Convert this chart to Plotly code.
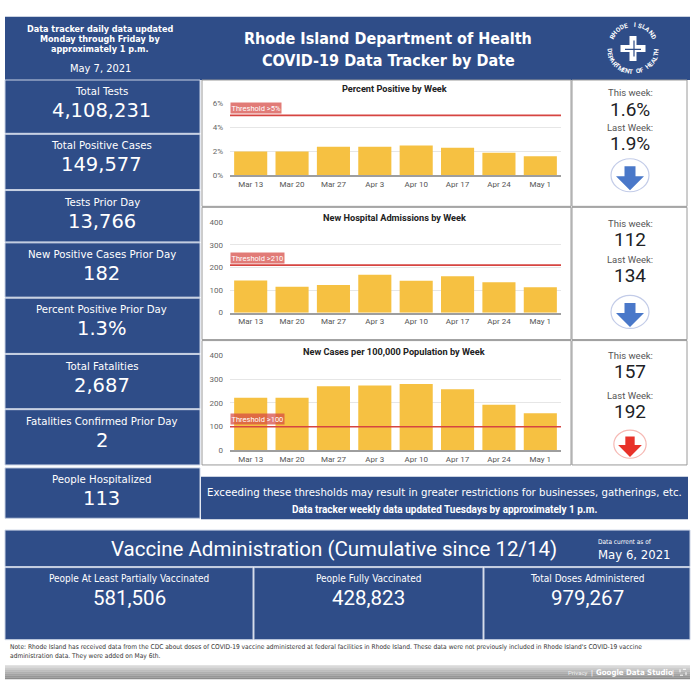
import numpy as np
import plotly.graph_objects as go

W, H = 696, 695

# ---------- data ----------
update_note = ["Data tracker daily data updated", "Monday through Friday by", "approximately 1 p.m."]
report_date = "May 7, 2021"
title_lines = ["Rhode Island Department of Health", "COVID-19 Data Tracker by Date"]

stat_labels = ["Total Tests", "Total Positive Cases", "Tests Prior Day", "New Positive Cases Prior Day",
               "Percent Positive Prior Day", "Total Fatalities", "Fatalities Confirmed Prior Day",
               "People Hospitalized"]
stat_values = ["4,108,231", "149,577", "13,766", "182", "1.3%", "2,687", "2", "113"]

weeks = ["Mar 13", "Mar 20", "Mar 27", "Apr 3", "Apr 10", "Apr 17", "Apr 24", "May 1"]
pct_positive = [2.0, 2.0, 2.4, 2.4, 2.5, 2.3, 1.9, 1.6]
hosp_admissions = [142, 115, 122, 167, 141, 161, 134, 112]
cases_per_100k = [222, 222, 270, 273, 280, 257, 192, 157]

chart_titles = ["Percent Positive by Week", "New Hospital Admissions by Week",
                "New Cases per 100,000 Population by Week"]
thresholds = [5, 210, 100]
threshold_labels = ["Threshold >5%", "Threshold >210", "Threshold >100"]
y_max = [6, 400, 400]
y_dtick = [2, 100, 100]
y_suffix = ["%", "", ""]
val_fmt = ["{:.1f}%", "{:d}", "{:d}"]

threshold_note = "Exceeding these thresholds may result in greater restrictions for businesses, gatherings, etc."
weekly_note = "Data tracker weekly data updated Tuesdays by approximately 1 p.m."

vax_title = "Vaccine Administration (Cumulative since 12/14)"
vax_date = "May 6, 2021"
vax_labels = ["People At Least Partially Vaccinated", "People Fully Vaccinated", "Total Doses Administered"]
vax_values = ["581,506", "428,823", "979,267"]

note_lines = ["Note: Rhode Island has received data from the CDC about doses of COVID-19 vaccine administered at "
              "federal facilities in Rhode Island. These data were not previously included in Rhode Island's "
              "COVID-19 vaccine",
              "administration data. They were added on May 6th."]

# ---------- style ----------
BLUE = "#2f4d88"
BAR = "#f6c142"
RED_LINE = "#d64541"
ROBOTO = "Roboto, Arial, sans-serif"
VERDANA = "DejaVu Sans, Verdana, sans-serif"
NARROW = "Liberation Sans Narrow, Arial Narrow, DejaVu Sans Condensed, Roboto, sans-serif"


def X(px):
    return px / W


def Y(py):
    return 1 - py / H


shapes = []
annotations = []


def rect(x0, y0, x1, y1, fill, line=None, lw=1, layer="below"):
    shapes.append(dict(type="rect", xref="paper", yref="paper", x0=X(x0), x1=X(x1), y0=Y(y1), y1=Y(y0),
                       fillcolor=fill, line=dict(color=line or fill, width=lw if line else 0), layer=layer))


def text(x, y, s, size, color="white", family=ROBOTO, xanchor="center", **kw):
    annotations.append(dict(xref="paper", yref="paper", x=X(x), y=Y(y), text=s, showarrow=False,
                            font=dict(size=size, color=color, family=family), xanchor=xanchor,
                            yanchor="middle", **kw))


# header
rect(5, 13, 690, 77, BLUE)
for i, line in enumerate(update_note):
    text(100, 25.5 + i * 10, "<b>" + line + "</b>", 9, family=NARROW)
text(100, 65.5, report_date, 11, family=NARROW)
text(388, 35, "<b>" + title_lines[0] + "</b>", 16, family=NARROW)
text(388, 57, "<b>" + title_lines[1] + "</b>", 16, family=NARROW)

# logo: lettering round a ring and a cross in the middle
lcx, lcy, lr = 633, 45, 24
top_word, bottom_word = "RHODE ISLAND", "DEPARTMENT OF HEALTH"
for ch, th in zip(top_word, np.linspace(150, 30, len(top_word))):
    t = np.radians(th)
    annotations.append(dict(xref="paper", yref="paper", x=X(lcx + lr * np.cos(t)), y=Y(lcy - lr * np.sin(t)),
                            text="<b>" + ch + "</b>", showarrow=False, textangle=90 - th,
                            xanchor="center", yanchor="middle",
                            font=dict(size=6.3, color="white", family=ROBOTO)))
for ch, th in zip(bottom_word, np.linspace(185, 355, len(bottom_word))):
    t = np.radians(th)
    ang = (-90 - th + 540) % 360 - 180
    annotations.append(dict(xref="paper", yref="paper", x=X(lcx + lr * np.cos(t)), y=Y(lcy - lr * np.sin(t)),
                            text="<b>" + ch + "</b>", showarrow=False, textangle=ang,
                            xanchor="center", yanchor="middle",
                            font=dict(size=6.3, color="white", family=ROBOTO)))
shapes.append(dict(type="path", xref="paper", yref="paper", xsizemode="pixel", ysizemode="pixel",
                   xanchor=X(lcx), yanchor=Y(lcy),
                   path="M -3.5 12.5 L 3.5 12.5 L 3.5 3.5 L 12.5 3.5 L 12.5 -3.5 L 3.5 -3.5 L 3.5 -12.5 "
                        "L -3.5 -12.5 L -3.5 -3.5 L -12.5 -3.5 L -12.5 3.5 L -3.5 3.5 Z",
                   fillcolor="white", line=dict(width=0)))
shapes.append(dict(type="path", xref="paper", yref="paper", xsizemode="pixel", ysizemode="pixel",
                   xanchor=X(lcx), yanchor=Y(lcy), path="M -8 -1 L 8 -1 M 1 8 L 1 -8",
                   line=dict(color=BLUE, width=1.2)))

# left column of totals
box_y = [(77, 131), (132, 188), (189, 241), (242, 297), (298, 354), (355, 410), (411, 467), (470, 521)]
for (y0, y1), lab, val in zip(box_y, stat_labels, stat_values):
    rect(5, y0, 200, y1, BLUE, line="#c9d2e4")
    text(102, y0 + 11.8, lab, 10.2, family=VERDANA)
    text(102, y0 + 31, val, 19.5, family=VERDANA)

# weekly charts
series = [pct_positive, hosp_admissions, cases_per_100k]
panel_y = [(77, 205), (206, 340), (341, 467)]
plot_y = [(100.7, 173.7), (221, 312.7), (356, 452.3)]
title_y = [86, 216, 352]
arrow_cy = [173.5, 312, 446]
arrow_k = [1.0, 1.0, 0.85]
text_y = [(90, 107, 125, 141.5), (222, 238.5, 259, 275), (356, 372, 397, 413)]

fig = go.Figure()
layout_axes = {}
for i, vals in enumerate(series):
    ax = "" if i == 0 else str(i + 1)
    y0, y1 = panel_y[i]
    rect(202, y0, 571, y1, "white", line="#9a9a9a")
    rect(572, y0, 687, y1, "white", line="#9a9a9a")
    fig.add_trace(go.Bar(x=weeks, y=vals, marker=dict(color=BAR, line=dict(width=0)),
                         xaxis="x" + ax, yaxis="y" + ax, showlegend=False, hoverinfo="x+y"))
    layout_axes["xaxis" + ax] = dict(domain=[X(230), X(561)], anchor="y" + ax, showline=True,
                                     linecolor="#9e9e9e", linewidth=1.5, showgrid=False, ticks="",
                                     tickfont=dict(size=8, color="#555", family=ROBOTO), fixedrange=True)
    layout_axes["yaxis" + ax] = dict(domain=[Y(plot_y[i][1]), Y(plot_y[i][0])], anchor="x" + ax,
                                     range=[0, y_max[i]], dtick=y_dtick[i], ticksuffix=y_suffix[i],
                                     gridcolor="#e6e6e6", gridwidth=1, zeroline=False, showline=False,
                                     ticklabelstandoff=6,
                                     tickfont=dict(size=8, color="#666", family=ROBOTO), fixedrange=True)
    text(394, title_y[i], "<b>" + chart_titles[i] + "</b>", 9.2, color="#222")
    shapes.append(dict(type="line", xref="x" + ax + " domain", yref="y" + ax, x0=0, x1=1,
                       y0=thresholds[i], y1=thresholds[i], line=dict(color=RED_LINE, width=1.6), layer="above"))
    annotations.append(dict(xref="x" + ax + " domain", yref="y" + ax, x=0, y=thresholds[i],
                            text=threshold_labels[i], showarrow=False, xanchor="left", yanchor="bottom",
                            yshift=1.5, bgcolor="rgba(214,72,66,0.72)", borderpad=0.5,
                            font=dict(size=7.5, color="white", family=ROBOTO)))

    # this week / last week panel
    this_w, last_w = vals[-1], vals[-2]
    fmt = val_fmt[i]
    ty = text_y[i]
    text(630, ty[0], "This week:", 9.5, color="#555")
    text(630, ty[1], fmt.format(this_w), 19, color="#202124")
    text(630, ty[2], "Last Week:", 9.5, color="#555")
    text(630, ty[3], fmt.format(last_w), 19, color="#202124")
    above = this_w > thresholds[i]
    fill = "#e8322a" if above else "#4a78c9"
    ring = "#f6b8b3" if above else "#c3cce8"
    k = arrow_k[i]
    shapes.append(dict(type="circle", xref="paper", yref="paper", xsizemode="pixel", ysizemode="pixel",
                       xanchor=X(630), yanchor=Y(arrow_cy[i]), x0=-19 * k, x1=19 * k, y0=-16.5 * k,
                       y1=16.5 * k, fillcolor="white", line=dict(color=ring, width=1.2)))
    pts = [(-5.5, 9), (5.5, 9), (5.5, -1), (14, -1), (0, -15), (-14, -1), (-5.5, -1)]
    if this_w > last_w:
        pts = [(px, -py) for px, py in pts]
    path = "M " + " L ".join(f"{px * k:.2f} {py * k:.2f}" for px, py in pts) + " Z"
    shapes.append(dict(type="path", xref="paper", yref="paper", xsizemode="pixel", ysizemode="pixel",
                       xanchor=X(630), yanchor=Y(arrow_cy[i]), path=path, fillcolor=fill, line=dict(width=0)))

# threshold note bar
rect(201, 479, 688, 522, BLUE)
text(444, 494.5, threshold_note, 10.2, family=VERDANA)
text(444, 512.5, "<b>" + weekly_note + "</b>", 10, family=ROBOTO)

# vaccine section
rect(5, 533, 690, 570, BLUE, line="#c9d2e4")
text(334, 552, vax_title, 20.5, family=ROBOTO)
text(625, 545, "Data current as of", 6.5, family=NARROW)
text(634, 558, vax_date, 13, family=NARROW)
vax_x = [(5, 253), (254, 483), (484, 690)]
for (x0, x1), lab, val in zip(vax_x, vax_labels, vax_values):
    rect(x0, 571, x1, 644, BLUE, line="#c9d2e4")
    text((x0 + x1) / 2, 582, lab, 10, family=NARROW)
    text((x0 + x1) / 2, 601.5, val, 20.5, family=ROBOTO)

for j, line in enumerate(note_lines):
    text(8, 651 + j * 9.5, line, 6.6, color="#333", family=NARROW, xanchor="left")

# footer strip
greys = ["#d9d9d9", "#cccccc", "#bdbdbd", "#b0b0b0", "#a3a3a3", "#979797", "#8c8c8c"]
for j, g in enumerate(greys):
    rect(5, 670 + j * 2, 690, 672 + j * 2, g, layer="below")
text(578, 677, "Privacy", 6, color="#eeeeee", family=ROBOTO)
text(592, 677, "|", 8, color="white", family=ROBOTO)
text(634, 677, "<b>Google Data Studio</b>", 7.8, color="white", family=NARROW)
text(673, 677, "|", 8, color="white", family=ROBOTO)
shapes.append(dict(type="rect", xref="paper", yref="paper", x0=X(680), x1=X(686), y0=Y(680), y1=Y(674),
                   line=dict(color="white", width=1, dash="dot")))

fig.update_layout(width=W, height=H, autosize=False, margin=dict(l=0, r=0, t=0, b=0, pad=0),
                  paper_bgcolor="white", plot_bgcolor="rgba(0,0,0,0)", bargap=0.2,
                  shapes=shapes, annotations=annotations, font=dict(family=ROBOTO), **layout_axes)

fig.write_html("out.html", config={"displayModeBar": False},
               post_script="document.body.style.margin='0';")
